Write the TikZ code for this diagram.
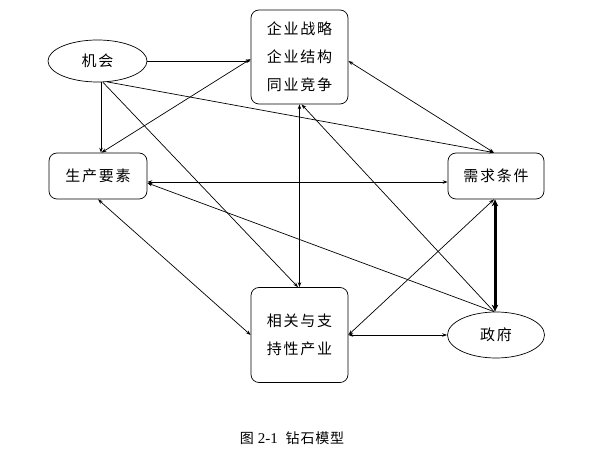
\documentclass[tikz,border=0pt]{standalone}
\usepackage{fontspec}
\setmainfont{Liberation Serif}
\newfontfamily\cjk[LetterSpace=12]{Noto Sans CJK SC}
\newfontfamily\cjkcap[LetterSpace=6]{Noto Sans CJK SC}
\usetikzlibrary{arrows.meta,shapes.geometric}
\begin{document}
\begin{tikzpicture}[x=1pt,y=-1pt,
  box/.style={draw, rounded corners=8pt, line width=0.7pt, minimum width=97pt,
    font=\cjk\fontsize{15}{28}\selectfont, align=center, inner sep=0pt},
  oval/.style={draw, ellipse, line width=0.7pt, inner sep=0pt,
    font=\cjk\fontsize{15}{18}\selectfont},
  link/.style={line width=0.7pt, -{Stealth[length=5pt,width=3.5pt]}},
  both/.style={line width=0.7pt, {Stealth[length=5pt,width=3.5pt]}-{Stealth[length=5pt,width=3.5pt]}},
  thickboth/.style={line width=3pt, {Stealth[length=7pt,width=6.5pt]}-{Stealth[length=7pt,width=6.5pt]}}]
\useasboundingbox (0,0) rectangle (590,454);
\node[oval, minimum width=99pt, minimum height=42pt] (jh) at (97.5,61) {机会};
\node[box, minimum height=94pt] (qy) at (299.5,57) {企业战略\\企业结构\\同业竞争};
\node[box, minimum width=98pt, minimum height=46pt] (sc) at (98,176) {生产要素};
\node[box, minimum width=96pt, minimum height=46pt] (xq) at (496,176) {需求条件};
\node[box, minimum height=95pt] (xg) at (299.5,335) {相关与支\\持性产业};
\node[oval, minimum width=97pt, minimum height=46pt] (zf) at (496,335) {政府};
\node[font=\cjkcap\fontsize{14}{16}\selectfont] (cap) at (292,438) {图 {\rmfamily\fontsize{15}{16}\selectfont 2-1}\ \ 钻石模型};
% connectors
\draw[link] (jh.east) -- (jh.east -| qy.west);
\draw[link] ([xshift=3.5pt]jh.south) -- ([xshift=3.5pt]jh.south |- sc.north);
\draw[both] ([xshift=3.5pt]sc.north) -- ([yshift=-2pt]qy.west);
\draw[link] ([xshift=5.5pt]jh.south) -- ([xshift=-1.5pt]xg.north);
\draw[link] ([xshift=9.5pt,yshift=0.5pt]jh.south) -- ([xshift=-2pt]xq.north);
\draw[both] (qy.south) -- (xg.north);
\draw[both] ([yshift=-4pt]qy.east) -- ([xshift=-2pt]xq.north);
\draw[link] ([xshift=-2pt]zf.north) -- ([xshift=2pt]qy.south);
\draw[both] ([yshift=-6pt]sc.east) -- ([yshift=-6pt]xq.west);
\draw[link] ([xshift=-2pt]zf.north) -- ([yshift=-7pt]sc.east);
\draw[both] (sc.south) -- (xg.west);
\draw[both] ([xshift=-2pt]xq.south) -- (xg.east);
\draw[thickboth] ([xshift=-1pt]xq.south) -- ([xshift=-1pt]zf.north);
\draw[both] (xg.east) -- (zf.west);
\end{tikzpicture}
\end{document}
